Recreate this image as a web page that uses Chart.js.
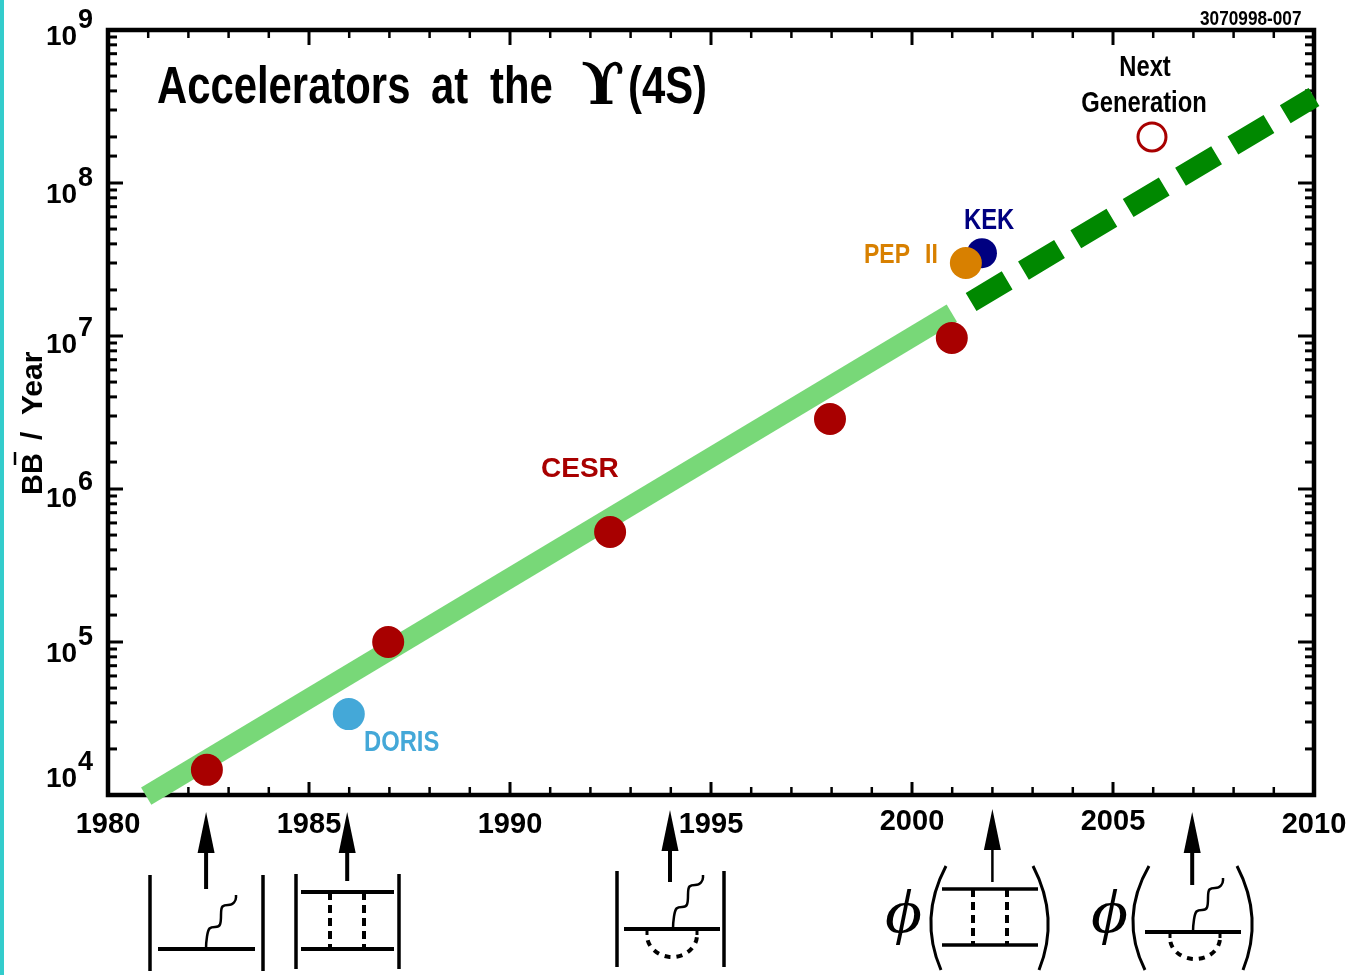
<!DOCTYPE html>
<html>
<head>
<meta charset="utf-8">
<title>Accelerators at the Upsilon(4S)</title>
<script src="https://cdn.jsdelivr.net/npm/chart.js@4"></script>
<style>
  html, body { margin: 0; padding: 0; background: #fff; }
  canvas { display: block; }
</style>
</head>
<body>
<canvas id="myChart" width="1350" height="975"></canvas>
<script>
// values
var cesrYears = [1982.46, 1986.97, 1992.49, 1997.96, 2000.99];
var cesrValues = [1.46e4, 1.0e5, 5.24e5, 2.87e6, 9.7e6];
var dorisYears = [1985.99];
var dorisValues = [3.38e4];
var kekYears = [2001.74];
var kekValues = [3.48e7];
var pepYears = [2001.34];
var pepValues = [3.0e7];
var nextYears = [2005.97];
var nextValues = [2.0e8];
var trendYears = [1980.95, 2000.99];
var trendValues = [9.84e3, 1.41e7];
var futureYears = [2001.47, 2010];
var futureValues = [1.67e7, 3.65e8];
var arrowYears = [1982.44, 1985.95, 1993.98, 2002, 2006.97];
var xTickLabels = ["1980", "1985", "1990", "1995", "2000", "2005", "2010"];
var yTickExponents = ["4", "5", "6", "7", "8", "9"];

var SANS = '"Liberation Sans", Arial, sans-serif';
var SERIF = '"Liberation Serif", "DejaVu Serif", serif';
var RED = "#a80000";

function toPoints(xs, ys) {
  return xs.map(function (x, i) { return { x: x, y: ys[i] }; });
}

function dot(label, xs, ys, color, radius) {
  return {
    label: label,
    data: toPoints(xs, ys),
    pointRadius: radius,
    pointBackgroundColor: color,
    pointBorderColor: color,
    pointBorderWidth: 0,
    showLine: false
  };
}

function text(ctx, str, x, y, font, color, align, sx) {
  ctx.save();
  ctx.translate(x, y);
  ctx.scale(sx || 1, 1);
  ctx.font = font;
  ctx.fillStyle = color || "#000";
  ctx.textAlign = align || "left";
  ctx.textBaseline = "alphabetic";
  ctx.fillText(str, 0, 0);
  ctx.restore();
}

// no narrow face is installed, so squeeze the normal one
function narrow(ctx, str, x, y, size, color, align) {
  text(ctx, str, x, y, "bold " + size + "px " + SANS, color, align, 0.82);
}

function seg(ctx, x0, y0, x1, y1, w, dash) {
  ctx.beginPath();
  ctx.lineWidth = w;
  ctx.setLineDash(dash || []);
  ctx.moveTo(x0, y0);
  ctx.lineTo(x1, y1);
  ctx.stroke();
  ctx.setLineDash([]);
}

function wave(ctx, x, y, w) {
  var p = [[0, 0], [0, -6], [2, -19], [5, -22], [13, -22], [15, -27], [15, -41], [18, -44], [26, -44], [30, -49], [30, -54]];
  ctx.beginPath();
  ctx.lineWidth = w;
  ctx.moveTo(x, y);
  for (var i = 1; i < p.length - 1; i++) {
    var mx = (p[i][0] + p[i + 1][0]) / 2, my = (p[i][1] + p[i + 1][1]) / 2;
    ctx.quadraticCurveTo(x + p[i][0], y + p[i][1], x + mx, y + my);
  }
  ctx.lineTo(x + 30, y - 54);
  ctx.stroke();
}

function loop(ctx, cx, y, rx, ry) {
  seg(ctx, cx - rx, y, cx - rx, y + 6, 3);
  seg(ctx, cx + rx, y, cx + rx, y + 6, 3);
  ctx.beginPath();
  ctx.lineWidth = 4;
  ctx.setLineDash([6, 6]);
  ctx.ellipse(cx, y + 6, rx, ry, 0, 0.1, Math.PI - 0.1);
  ctx.stroke();
  ctx.setLineDash([]);
}

function paren(ctx, x0, y0, xm, x1, y1) {
  ctx.beginPath();
  ctx.lineWidth = 3;
  ctx.moveTo(x0, y0);
  ctx.quadraticCurveTo(2 * xm - (x0 + x1) / 2, (y0 + y1) / 2, x1, y1);
  ctx.stroke();
}

function box(ctx, x0, x1, yTop, yBot, d0, d1, w) {
  seg(ctx, x0, yTop, x1, yTop, w);
  seg(ctx, x0, yBot, x1, yBot, w);
  seg(ctx, d0, yTop, d0, yBot, 4, [8, 5]);
  seg(ctx, d1, yTop, d1, yBot, 4, [8, 5]);
}

var framePlugin = {
  id: "frame",
  beforeDraw: function (chart) {
    var ctx = chart.ctx;
    ctx.save();
    ctx.fillStyle = "#fff";
    ctx.fillRect(0, 0, chart.width, chart.height);
    ctx.fillStyle = "#33cccc";
    ctx.fillRect(0, 0, 4, chart.height);
    ctx.restore();
  },
  beforeDatasetsDraw: function (chart) {
    var ctx = chart.ctx, a = chart.chartArea;
    var xs = chart.scales.x, ys = chart.scales.y;
    ctx.save();
    ctx.strokeStyle = "#000";
    ctx.lineWidth = 4.5;
    ctx.strokeRect(a.left, a.top, a.right - a.left, a.bottom - a.top);

    xs.ticks.forEach(function (t) {
      var px = xs.getPixelForValue(t.value);
      var major = t.value % 5 === 0;
      seg(ctx, px, a.bottom, px, a.bottom - (major ? 13 : 8), major ? 3 : 2.5);
      seg(ctx, px, a.top, px, a.top + (major ? 15 : 8), major ? 3 : 2.5);
    });
    ys.ticks.forEach(function (t) {
      var py = ys.getPixelForValue(t.value);
      var major = Math.abs(Math.log10(t.value) % 1) < 1e-9;
      seg(ctx, a.left, py, a.left + (major ? 15 : 9), py, 3);
      seg(ctx, a.right, py, a.right - (major ? 16 : 9), py, 3);
    });
    ctx.restore();
  },
  afterDatasetsDraw: function (chart) {
    var ctx = chart.ctx;
    var xs = chart.scales.x, ys = chart.scales.y;
    ctx.save();
    ctx.strokeStyle = "#000";

    // x tick labels, the 2000 and 2005 ones sit a little higher
    xTickLabels.forEach(function (s) {
      var up = (s === "2000" || s === "2005") ? 3 : 0;
      text(ctx, s, xs.getPixelForValue(+s), 833 - up, "bold 29px " + SANS, "#000", "center");
    });

    // y tick labels as 10 + raised exponent
    var drop = { "4": -8, "5": 20, "6": 18, "7": 17, "8": 20, "9": 15 };
    yTickExponents.forEach(function (e) {
      var py = ys.getPixelForValue(Math.pow(10, +e));
      text(ctx, "10", 46, py + drop[e], "bold 28px " + SANS);
      text(ctx, e, 78, py + drop[e] - 17, "bold 27px " + SANS);
    });

    // y axis title
    ctx.save();
    ctx.translate(42, 495);
    ctx.rotate(-Math.PI / 2);
    text(ctx, "BB", 0, 0, "bold 29px " + SANS);
    text(ctx, "/", 55, 0, "bold 30px " + SANS);
    text(ctx, "Year", 80, 0, "bold 30px " + SANS);
    seg(ctx, 30, -27, 43, -27, 2.5);
    ctx.restore();

    // headline and small texts
    narrow(ctx, "Accelerators", 157, 103, 51);
    narrow(ctx, "at", 431, 103, 51);
    narrow(ctx, "the", 490, 103, 51);
    text(ctx, "\u03d2", 581, 104, "bold 57px \"DejaVu Serif\", serif");
    narrow(ctx, "(4S)", 628, 103, 51);
    narrow(ctx, "3070998-007", 1200, 25, 21);
    narrow(ctx, "Next", 1145, 76, 29, "#000", "center");
    narrow(ctx, "Generation", 1144, 112, 29, "#000", "center");
    narrow(ctx, "KEK", 964, 229, 29, "#000080");
    narrow(ctx, "PEP", 864, 263, 28, "#d88000");
    narrow(ctx, "II", 925, 263, 28, "#d88000");
    text(ctx, "CESR", 541, 477, "bold 28px " + SANS, RED);
    narrow(ctx, "DORIS", 364, 751, 29, "#44a8d8");

    // arrows under the axis
    var ends = [889, 881, 882, 882, 885];
    var tips = [812, 812, 810, 809, 812];
    arrowYears.forEach(function (yr, i) {
      var px = xs.getPixelForValue(yr);
      seg(ctx, px, tips[i] + 30, px, ends[i], i === 3 ? 2.5 : 4);
      ctx.beginPath();
      ctx.fillStyle = "#000";
      ctx.moveTo(px, tips[i]);
      ctx.lineTo(px + 8.5, tips[i] + 41);
      ctx.lineTo(px - 8.5, tips[i] + 41);
      ctx.closePath();
      ctx.fill();
    });

    // first diagram
    seg(ctx, 150, 875, 150, 971, 3.5);
    seg(ctx, 263, 875, 263, 971, 3.5);
    seg(ctx, 158, 949, 255, 949, 4);
    wave(ctx, 206, 949, 2.5);

    // second diagram
    seg(ctx, 296, 874, 296, 969, 3.5);
    seg(ctx, 399, 874, 399, 969, 3.5);
    box(ctx, 301, 394, 892, 949, 330, 364, 4);

    // third diagram
    seg(ctx, 617, 871, 617, 967, 3.5);
    seg(ctx, 724, 871, 724, 967, 3.5);
    seg(ctx, 624, 929, 720, 929, 4);
    wave(ctx, 673, 929, 2.5);
    loop(ctx, 672, 929, 25, 22);

    // fourth diagram
    text(ctx, "\u03d5", 885, 932, "italic 62px " + SERIF, "#000", "left", 1.15);
    paren(ctx, 946, 866, 931, 941, 970);
    paren(ctx, 1033, 866, 1048, 1039, 970);
    box(ctx, 942, 1038, 889, 945, 973, 1007, 3.5);

    // fifth diagram
    text(ctx, "\u03d5", 1091, 932, "italic 62px " + SERIF, "#000", "left", 1.15);
    paren(ctx, 1149, 866, 1133, 1145, 970);
    paren(ctx, 1237, 866, 1252, 1243, 970);
    seg(ctx, 1145, 932, 1241, 932, 4);
    wave(ctx, 1193, 932, 2.5);
    loop(ctx, 1195, 932, 25, 21);

    ctx.restore();
  }
};

var chartdata = {
  datasets: [
    dot("CESR", cesrYears, cesrValues, RED, 16),
    dot("DORIS", dorisYears, dorisValues, "#44a8d8", 16),
    dot("PEP II", pepYears, pepValues, "#d88000", 16),
    dot("KEK", kekYears, kekValues, "#000080", 15),
    {
      label: "Next Generation",
      data: toPoints(nextYears, nextValues),
      pointRadius: 14,
      pointBackgroundColor: "#fff",
      pointBorderColor: RED,
      pointBorderWidth: 3,
      showLine: false
    },
    {
      label: "Trend",
      data: toPoints(trendYears, trendValues),
      showLine: true,
      pointRadius: 0,
      borderColor: "#78d878",
      borderWidth: 20,
      clip: false
    },
    {
      label: "Projection",
      data: toPoints(futureYears, futureValues),
      showLine: true,
      pointRadius: 0,
      borderColor: "#008800",
      borderWidth: 21,
      borderDash: [42, 19],
      clip: false
    }
  ]
};

var ctx = document.getElementById("myChart");

var accelChart = new Chart(ctx, {
  type: "scatter",
  data: chartdata,
  plugins: [framePlugin],
  options: {
    responsive: false,
    animation: false,
    layout: { padding: { left: 108, top: 30, right: 36, bottom: 180 } },
    plugins: { legend: { display: false }, tooltip: { enabled: false } },
    scales: {
      x: {
        type: "linear",
        min: 1980,
        max: 2010,
        display: false,
        ticks: { stepSize: 1, autoSkip: false }
      },
      y: {
        type: "logarithmic",
        min: 1e4,
        max: 1e9,
        display: false,
        ticks: { autoSkip: false }
      }
    }
  }
});
</script>
</body>
</html>
